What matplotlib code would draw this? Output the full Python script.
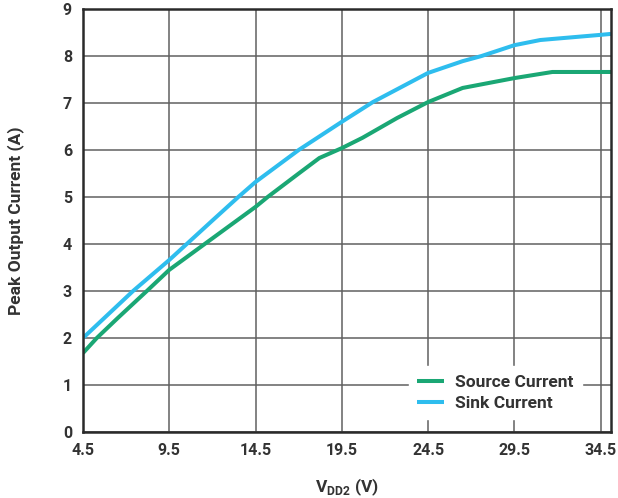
import numpy as np
import matplotlib
matplotlib.use("Agg")
import matplotlib.pyplot as plt

# data
vdd_source = [4.5, 5.3, 6.5, 8.2, 9.5, 12.0, 14.5, 15.2, 17.0, 18.2, 19.5, 20.7, 22.7, 24.5, 26.5, 29.5, 31.7, 34.5, 35.1]
source_current = [1.68, 2.0, 2.42, 3.0, 3.45, 4.12, 4.79, 5.0, 5.5, 5.83, 6.04, 6.26, 6.68, 7.02, 7.32, 7.53, 7.66, 7.66, 7.66]

vdd_sink = [4.5, 7.4, 9.5, 12.0, 13.5, 14.5, 17.0, 19.5, 21.3, 24.5, 26.5, 27.6, 29.5, 31.0, 34.5, 35.1]
sink_current = [2.0, 3.0, 3.66, 4.5, 5.0, 5.32, 6.0, 6.6, 7.02, 7.64, 7.89, 8.0, 8.23, 8.34, 8.45, 8.47]

xticks = [4.5, 9.5, 14.5, 19.5, 24.5, 29.5, 34.5]
yticks = [0, 1, 2, 3, 4, 5, 6, 7, 8, 9]

plt.rcParams['font.family'] = ['Roboto', 'DejaVu Sans']
txt = '#333333'

fig = plt.figure(figsize=(6.18, 4.98), dpi=100)
ax = fig.add_axes([83/618, 1-432/498, (611-83)/618, (432-9)/498])

ax.plot(vdd_source, source_current, color='#1aa774', lw=2.9, label='Source Current', solid_capstyle='butt')
ax.plot(vdd_sink, sink_current, color='#2ebdee', lw=2.9, label='Sink Current', solid_capstyle='butt')

ax.set_xlim(4.5, 35.1)
ax.set_ylim(0, 9)
ax.set_xticks(xticks)
ax.set_yticks(yticks)
ax.set_xticklabels([str(t) for t in xticks])
ax.grid(True, color='#606060', lw=1.1)
ax.set_axisbelow(True)
ax.tick_params(length=0, pad=8, labelsize=11.5, labelcolor=txt)
for lab in ax.get_xticklabels() + ax.get_yticklabels():
    lab.set_fontweight('bold')
for s in ax.spines.values():
    s.set_color('#2a2a2a')
    s.set_linewidth(1.8)

ax.set_xlabel(r'V$_{\mathregular{DD2}}$ (V)', fontsize=12.5, fontweight='bold', color=txt)
ax.set_ylabel('Peak Output Current (A)', fontsize=12.5, fontweight='bold', color=txt)
ax.xaxis.set_label_coords(0.5, -0.105)
ax.yaxis.set_label_coords(-0.112, 0.5)

leg = ax.legend(loc='lower right', bbox_to_anchor=(0.946, 0.03), borderaxespad=0, frameon=True, framealpha=1,
                edgecolor='white', fancybox=False, prop={'weight': 'bold', 'size': 12.5},
                handlelength=1.55, handletextpad=0.65, labelspacing=0.3, borderpad=0.5)
for t in leg.get_texts():
    t.set_color(txt)

fig.savefig('out.png', dpi=100)
